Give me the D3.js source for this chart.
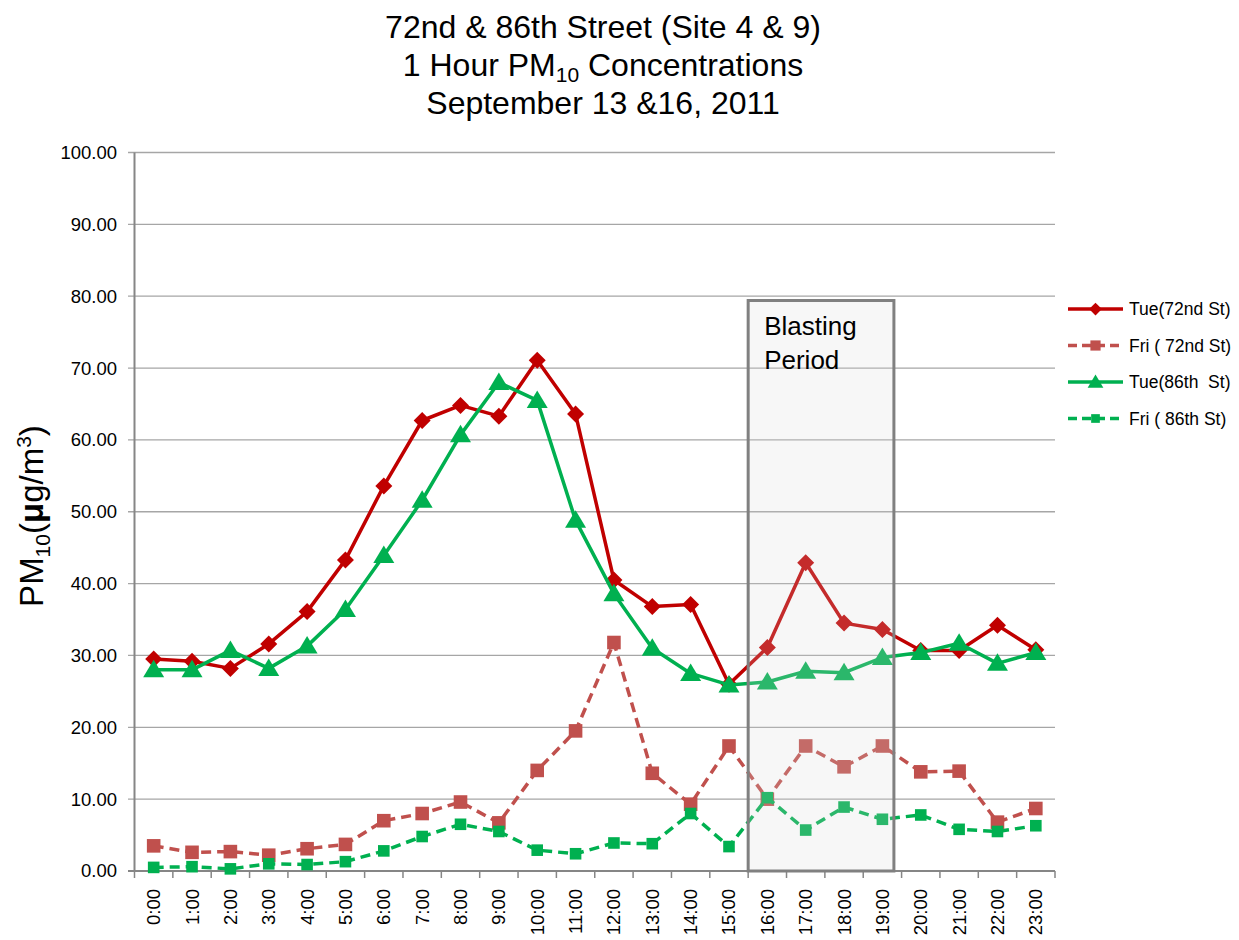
<html>
<head>
<script src="https://d3js.org/d3.v7.min.js"></script>
<style>
  body { margin: 0; background: #fff; }
  text { font-family: "Liberation Sans", Arial, sans-serif; fill: #000; white-space: pre; }
</style>
</head>
<body>
<script>
// chart values
var hours = ["0:00","1:00","2:00","3:00","4:00","5:00","6:00","7:00","8:00","9:00","10:00","11:00",
             "12:00","13:00","14:00","15:00","16:00","17:00","18:00","19:00","20:00","21:00","22:00","23:00"];
var tue72 = [29.5,29.2,28.2,31.6,36.1,43.3,53.6,62.7,64.8,63.3,71.1,63.6,40.5,36.8,37.1,26.0,31.1,42.9,34.5,33.6,30.7,30.7,34.2,30.8];
var fri72 = [3.5,2.6,2.7,2.2,3.1,3.7,7.0,8.0,9.6,6.7,14.0,19.5,31.8,13.6,9.3,17.4,10.0,17.4,14.5,17.4,13.8,13.9,6.8,8.7];
var tue86 = [28.0,28.0,30.7,28.2,31.3,36.4,43.9,51.6,60.7,68.0,65.5,48.8,38.6,31.0,27.5,25.9,26.3,27.8,27.6,29.7,30.4,31.7,28.9,30.4];
var fri86 = [0.5,0.6,0.3,1.0,0.9,1.3,2.8,4.8,6.5,5.5,2.9,2.4,3.9,3.8,8.0,3.4,10.2,5.7,8.9,7.2,7.8,5.8,5.5,6.3];
var yTicks = [0,10,20,30,40,50,60,70,80,90,100];
var seriesNames = ["Tue(72nd St)", "Fri ( 72nd St)", "Tue(86th  St)", "Fri ( 86th St)"];
var blastFrom = "16:00", blastTo = "19:00", blastTop = 79.4;

var series = [
  {name: seriesNames[0], values: tue72, color: "#C00000", dash: null, marker: "diamond"},
  {name: seriesNames[1], values: fri72, color: "#C0504D", dash: "10,6", marker: "square"},
  {name: seriesNames[2], values: tue86, color: "#00B050", dash: null, marker: "triangle"},
  {name: seriesNames[3], values: fri86, color: "#00B050", dash: "10,6", marker: "square2"}
];

var svg = d3.select("body").append("svg").attr("width", 1239).attr("height", 940);

var x = d3.scaleBand().domain(hours).range([134.5, 1055]);
var y = d3.scaleLinear().domain([0, 100]).range([871, 152.5]);

// title
var title = svg.append("text").attr("text-anchor", "middle").style("font-size", "32px");
title.append("tspan").attr("x", 603).attr("y", 38).text("72nd & 86th Street (Site 4 & 9)");
var t2 = title.append("tspan").attr("x", 603).attr("y", 76).text("1 Hour PM");
t2.append("tspan").attr("dy", 6).style("font-size", "21px").text("10");
t2.append("tspan").attr("dy", -6).text(" Concentrations");
title.append("tspan").attr("x", 603).attr("y", 114).text("September 13 &16, 2011");

// gridlines
svg.append("g").selectAll("line").data(yTicks).enter().append("line")
  .attr("x1", 128).attr("x2", 1055)
  .attr("y1", function(d) { return y(d); }).attr("y2", function(d) { return y(d); })
  .attr("stroke", function(d) { return d == 0 ? "#868686" : "#a6a6a6"; })
  .attr("stroke-width", function(d) { return d == 0 ? 2 : 1.3; });

svg.append("g").selectAll("text").data(yTicks).enter().append("text")
  .attr("x", 117).attr("y", function(d) { return y(d); }).attr("dy", "0.35em")
  .attr("text-anchor", "end").style("font-size", "18.5px")
  .text(function(d) { return d3.format(".2f")(d); });

// y axis line
svg.append("line").attr("x1", 134.5).attr("x2", 134.5).attr("y1", y(100)).attr("y2", y(0))
  .attr("stroke", "#868686").attr("stroke-width", 2);

// x ticks at band edges
var edges = hours.map(function(h) { return x(h); }).concat([x.range()[1]]);
svg.append("g").selectAll("line").data(edges).enter().append("line")
  .attr("x1", function(d) { return d; }).attr("x2", function(d) { return d; })
  .attr("y1", y(0)).attr("y2", y(0) + 7)
  .attr("stroke", "#868686").attr("stroke-width", 1.5);

svg.append("g").selectAll("text").data(hours).enter().append("text")
  .attr("transform", function(d) { return "translate(" + (x(d) + x.bandwidth() / 2) + ",889) rotate(-90)"; })
  .attr("dy", "0.35em").attr("text-anchor", "end").style("font-size", "18.5px")
  .text(function(d) { return d; });

// y axis title
var yt = svg.append("text").attr("transform", "translate(43,516) rotate(-90)")
  .attr("text-anchor", "middle").style("font-size", "33px");
yt.append("tspan").text("PM");
yt.append("tspan").attr("dy", 7).style("font-size", "21px").text("10");
yt.append("tspan").attr("dy", -7).text("(");
yt.append("tspan").style("font-weight", "bold").text("\u03bc");
yt.append("tspan").text("g/m");
yt.append("tspan").attr("dy", -12).style("font-size", "21px").text("3");
yt.append("tspan").attr("dy", 12).text(")");

function markerPath(type, s) {
  if (type == "diamond") return "M0," + (-s) + "L" + s + ",0L0," + s + "L" + (-s) + ",0Z";
  if (type == "triangle") return "M0," + (-s) + "L" + (s * 1.05) + "," + (s * 0.75) + "L" + (-s * 1.05) + "," + (s * 0.75) + "Z";
  return "M" + (-s) + "," + (-s) + "H" + s + "V" + s + "H" + (-s) + "Z";
}
var markerSize = {diamond: 8.5, triangle: 10, square: 6.8, square2: 5.8};

var line = d3.line()
  .x(function(d, i) { return x(hours[i]) + x.bandwidth() / 2; })
  .y(function(d) { return y(d); });

series.forEach(function(s) {
  var g = svg.append("g");
  g.append("path").attr("d", line(s.values)).attr("fill", "none")
    .attr("stroke", s.color).attr("stroke-width", 3.5)
    .attr("stroke-dasharray", s.dash).attr("stroke-linejoin", "round");
  g.selectAll("path.m").data(s.values).enter().append("path").attr("class", "m")
    .attr("transform", function(d, i) { return "translate(" + (x(hours[i]) + x.bandwidth() / 2) + "," + y(d) + ")"; })
    .attr("d", markerPath(s.marker, markerSize[s.marker]))
    .attr("fill", s.color);
});

// blasting period box
var bx0 = x(blastFrom), bx1 = x(blastTo) + x.bandwidth() * 0.8;
svg.append("rect").attr("x", bx0).attr("y", y(blastTop))
  .attr("width", bx1 - bx0).attr("height", y(0) - y(blastTop))
  .attr("fill", "#d9d9d9").attr("fill-opacity", 0.2)
  .attr("stroke", "#808080").attr("stroke-width", 3);
svg.append("text").attr("x", bx0 + 16).attr("y", y(blastTop) + 34).style("font-size", "26px").text("Blasting");
svg.append("text").attr("x", bx0 + 16).attr("y", y(blastTop) + 68).style("font-size", "26px").text("Period");

// legend
var leg = svg.append("g").selectAll("g").data(series).enter().append("g")
  .attr("transform", function(d, i) { return "translate(1068," + (309 + i * 36.5) + ")"; });
leg.append("line").attr("x1", 0).attr("x2", 55).attr("y1", 0).attr("y2", 0)
  .attr("stroke", function(d) { return d.color; }).attr("stroke-width", 3.5)
  .attr("stroke-dasharray", function(d) { return d.dash ? "9,5" : null; });
leg.append("path").attr("transform", "translate(27.5,0)")
  .attr("d", function(d) { return markerPath(d.marker, markerSize[d.marker] * 0.75); })
  .attr("fill", function(d) { return d.color; });
leg.append("text").attr("x", 61).attr("dy", "0.35em").style("font-size", "17.5px")
  .text(function(d) { return d.name; });
</script>
</body>
</html>
